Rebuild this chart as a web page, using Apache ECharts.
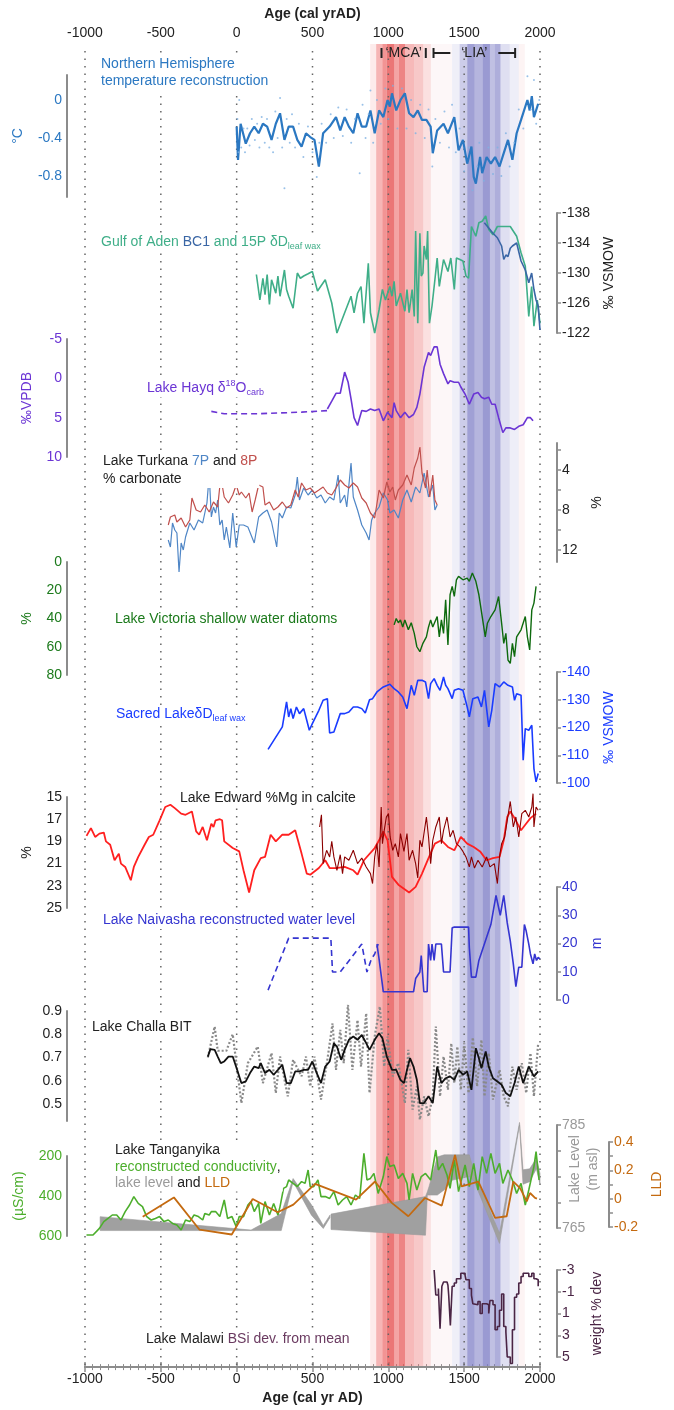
<!DOCTYPE html>
<html><head><meta charset="utf-8">
<script src="https://cdn.jsdelivr.net/npm/echarts@6/dist/echarts.min.js"></script>
<style>html,body{margin:0;padding:0;background:#fff}#c{width:674px;height:1410px}</style>
</head><body><div id="c"></div>
<script>
// ---------------- DATA ----------------
const xTicks = [-1000,-500,0,500,1000,1500,2000];
// climate periods shading: [startYear, endYear, colour]
const shadeBands = [
 [880,920,'rgba(240,120,120,0.15)'],[920,960,'rgba(235,90,90,0.45)'],[960,990,'rgba(235,90,90,0.65)'],
 [990,1040,'rgba(230,80,80,0.78)'],[1040,1070,'rgba(235,90,90,0.55)'],[1070,1110,'rgba(230,80,80,0.70)'],
 [1110,1170,'rgba(235,100,100,0.45)'],[1170,1230,'rgba(235,110,110,0.38)'],[1230,1280,'rgba(240,130,130,0.25)'],
 [1280,1420,'rgba(240,180,190,0.10)'],[1420,1470,'rgba(150,150,210,0.15)'],[1470,1520,'rgba(130,130,200,0.40)'],
 [1520,1570,'rgba(120,120,195,0.70)'],[1570,1620,'rgba(120,120,195,0.55)'],[1620,1670,'rgba(120,120,195,0.75)'],
 [1670,1700,'rgba(130,130,200,0.50)'],[1700,1740,'rgba(120,120,195,0.60)'],[1740,1800,'rgba(150,150,210,0.30)'],
 [1800,1860,'rgba(170,170,220,0.20)'],[1860,1900,'rgba(240,180,180,0.15)']
];
const periods = [[955,1247,'‘MCA’'],[1298,1836,'‘LIA’']];

const nhTemp = [[0,-0.28],[9,-0.63],[26,-0.25],[60,-0.46],[88,-0.35],[116,-0.28],[145,-0.35],[173,-0.25],[201,-0.28],[230,-0.42],[258,-0.25],[286,-0.14],[315,-0.42],[343,-0.28],[372,-0.28],[400,-0.42],[428,-0.49],[457,-0.35],[485,-0.39],[513,-0.42],[542,-0.70],[570,-0.35],[613,-0.28],[655,-0.18],[683,-0.32],[712,-0.18],[740,-0.28],[769,-0.35],[797,-0.14],[825,-0.28],[854,-0.28],[882,-0.11],[910,-0.35],[939,-0.11],[967,-0.18],[995,0.0],[1010,-0.07],[1024,0.07],[1052,-0.11],[1080,0.0],[1109,0.07],[1137,-0.14],[1166,-0.18],[1194,-0.11],[1222,-0.21],[1251,-0.21],[1279,-0.28],[1293,-0.56],[1322,-0.32],[1364,-0.25],[1393,-0.35],[1435,-0.18],[1449,-0.35],[1463,-0.53],[1492,-0.42],[1520,-0.67],[1548,-0.49],[1563,-0.81],[1577,-0.88],[1605,-0.60],[1619,-0.77],[1648,-0.60],[1676,-0.67],[1704,-0.60],[1733,-0.70],[1761,-0.56],[1789,-0.42],[1818,-0.63],[1846,-0.35],[1875,-0.21],[1917,0.0],[1932,-0.11],[1946,0.04],[1960,-0.18],[1988,-0.04]];
const nhAnnual = [[5,-0.2],[12,-0.55],[17,0.0],[30,-0.5],[45,-0.3],[55,-0.55],[70,-0.3],[85,-0.48],[100,-0.2],[120,-0.42],[135,-0.25],[150,-0.5],[165,-0.18],[185,-0.45],[200,-0.2],[215,-0.5],[240,-0.55],[255,-0.12],[270,-0.4],[286,0.02],[300,-0.5],[315,-0.93],[330,-0.2],[350,-0.45],[365,-0.15],[385,-0.5],[410,-0.25],[440,-0.6],[470,-0.28],[500,-0.55],[528,-0.81],[545,-0.45],[560,-0.25],[590,-0.45],[620,-0.15],[640,-0.4],[670,-0.08],[700,-0.38],[725,-0.1],[755,-0.45],[780,-0.2],[811,-0.77],[830,-0.05],[850,-0.4],[870,-0.15],[882,0.1],[900,-0.45],[925,0.0],[950,-0.25],[980,0.12],[1000,-0.2],[1030,0.15],[1060,-0.3],[1090,0.12],[1120,-0.3],[1150,0.0],[1180,-0.35],[1210,-0.05],[1240,-0.4],[1265,-0.1],[1290,-0.7],[1310,-0.2],[1340,-0.45],[1370,-0.12],[1400,-0.5],[1420,-0.05],[1445,-0.55],[1470,-0.3],[1500,-0.75],[1530,-0.5],[1555,-0.95],[1585,-0.7],[1600,-0.45],[1630,-0.85],[1660,-0.5],[1690,-0.78],[1720,-0.5],[1745,-0.8],[1775,-0.35],[1800,-0.7],[1830,-0.45],[1860,-0.1],[1890,-0.3],[1917,0.25],[1940,-0.1],[1960,0.21],[1975,-0.25],[1995,0.0]];

const aden15P = [[130,-129.8],[153,-126.4],[173,-129.3],[187,-127.1],[201,-129.8],[216,-125.8],[230,-129.1],[258,-127.3],[272,-129.6],[286,-126.9],[315,-130.4],[329,-127.8],[343,-126.9],[372,-125.3],[400,-130],[420,-129.3],[442,-129.6],[471,-129.9],[499,-130.2],[533,-127.6],[584,-129.1],[627,-126],[661,-122],[712,-124.7],[754,-126.9],[774,-124.7],[797,-127.3],[820,-128.2],[839,-123.3],[868,-131.3],[882,-124.7],[910,-122],[939,-125.1],[961,-127.8],[981,-126.4],[995,-127.3],[1010,-128.2],[1024,-126.9],[1038,-128.9],[1052,-125.6],[1080,-127.3],[1109,-124.9],[1123,-127.8],[1137,-124.7],[1157,-127.8],[1171,-124.2],[1180,-135.6],[1194,-123.3],[1208,-135.3],[1217,-129.6],[1228,-130],[1236,-133.6],[1251,-131.8],[1259,-135.6],[1271,-123.3],[1288,-125.6],[1307,-129.1],[1322,-132],[1336,-128.2],[1364,-131.8],[1393,-130.2],[1412,-132],[1435,-127.8],[1449,-132],[1472,-131.8],[1492,-131.6],[1512,-129.6],[1529,-129.3],[1548,-136.2],[1577,-134.9],[1597,-136.7],[1619,-136.9],[1642,-137.6],[1662,-135.8],[1690,-135.1],[1719,-136.2],[1747,-136.2],[1804,-136.2],[1846,-134.9],[1875,-132.7],[1903,-130.9],[1926,-124.2],[1945,-128.2],[1960,-122.9],[1982,-126.4],[2000,-123.3]];
const adenBC1 = [[1633,-136.7],[1662,-136.0],[1690,-135.3],[1719,-134.7],[1747,-133.6],[1761,-131.8],[1775,-132.4],[1789,-132.2],[1804,-133.3],[1818,-133.6],[1846,-134],[1875,-131.6],[1903,-130.4],[1926,-128.7],[1945,-130],[1960,-127.8],[1974,-126.4],[1988,-125.6],[2000,-122.4]];

const hayqDashed = [[-167,4.2],[-82,4.5],[145,4.5],[428,4.3],[598,4.1]];
const hayq = [[598,3.9],[627,2.9],[655,1.9],[683,1.9],[712,-0.8],[735,0.5],[754,2.6],[774,5.0],[797,6.0],[811,5.0],[825,4.1],[854,4.2],[882,3.9],[910,4.1],[939,3.9],[967,5.4],[995,4.3],[1024,5.0],[1038,3.1],[1052,4.1],[1080,5.0],[1109,4.3],[1137,5.0],[1166,4.6],[1188,3.7],[1208,2.0],[1236,-1.4],[1265,-3.3],[1279,-2.9],[1302,-4.0],[1322,-4.0],[1341,-1.8],[1364,-0.6],[1393,0.7],[1407,0.3],[1435,0.5],[1463,0.5],[1478,1.1],[1506,2.0],[1534,3.3],[1563,2.0],[1591,1.8],[1614,2.4],[1634,2.6],[1662,2.4],[1682,3.3],[1704,3.3],[1727,5.0],[1755,6.9],[1775,6.3],[1804,6.3],[1832,6.5],[1860,6.1],[1889,5.9],[1917,5.0],[1937,5.0],[1954,5.4]];

const turkana7P = [[-451,11.0],[-437,11.7],[-423,9.3],[-408,10.0],[-394,10.3],[-380,14.2],[-366,11.3],[-352,12.0],[-337,10.7],[-309,9.3],[-281,10.0],[-252,9.0],[-224,9.3],[-210,8.3],[-196,7.3],[-181,4.5],[-167,8.7],[-153,7.7],[-139,8.3],[-125,7.0],[-111,9.5],[-96,9.0],[-82,11.0],[-68,9.7],[-45,11.8],[-26,8.3],[-3,11.7],[17,9.5],[45,9.5],[74,9.7],[116,11.3],[145,8.7],[173,8.3],[201,8.0],[230,9.2],[264,11.7],[281,8.3],[301,8.8],[329,7.7],[357,7.8],[386,6.5],[400,4.7],[414,7.0],[442,5.8],[471,6.5],[499,6.0],[528,6.8],[556,6.5],[584,7.3],[613,6.7],[641,7.0],[669,4.5],[683,7.3],[712,6.5],[726,7.7],[754,3.3],[769,6.7],[797,8.0],[825,9.5],[854,10.3],[873,11.0],[890,9.0],[910,8.3],[939,7.7],[967,6.3],[995,7.0],[1010,8.3],[1038,8.0],[1066,8.8],[1095,7.0],[1123,6.0],[1151,7.2],[1180,5.7],[1208,6.3],[1236,4.3],[1265,6.7],[1293,5.5],[1307,8.0],[1322,7.5]];
const turkana8P = [[-451,9.5],[-437,8.7],[-408,8.5],[-394,9.2],[-366,8.8],[-337,9.7],[-309,9.0],[-295,6.8],[-267,8.0],[-238,8.2],[-210,7.5],[-181,8.2],[-153,7.2],[-125,7.7],[-105,4.7],[-82,6.7],[-54,7.3],[-26,6.5],[-3,5.5],[17,6.5],[31,6.2],[60,6.8],[82,6.3],[102,8.2],[122,7.0],[145,5.5],[173,5.7],[187,7.5],[216,7.2],[244,8.0],[272,7.7],[301,7.2],[329,7.8],[357,7.5],[386,6.0],[406,6.7],[428,5.3],[457,6.0],[485,5.8],[513,6.3],[542,6.0],[570,5.7],[598,6.3],[627,6.5],[655,5.8],[683,5.0],[712,5.5],[740,5.8],[769,5.3],[797,5.7],[825,6.8],[854,7.3],[882,8.3],[910,8.8],[939,6.0],[967,6.8],[990,5.2],[1010,6.2],[1029,5.7],[1046,7.0],[1066,6.0],[1095,5.5],[1123,4.5],[1151,5.5],[1171,3.8],[1194,2.8],[1208,1.7],[1222,4.3],[1245,5.8],[1256,4.0],[1273,6.7],[1293,4.5],[1307,7.0],[1322,7.5]];

const victoria = [[1038,44.5],[1052,40],[1066,43],[1080,41],[1095,46],[1109,41],[1132,48],[1151,43],[1171,50.5],[1188,60],[1208,63.5],[1228,57.6],[1251,53],[1265,46],[1279,41],[1293,46],[1322,38.6],[1336,53],[1350,41],[1364,50.5],[1378,26.8],[1393,58.8],[1407,23.2],[1421,17.3],[1435,24.4],[1449,12.6],[1463,10.2],[1492,12.6],[1520,11.4],[1534,13.7],[1554,7.8],[1577,13.7],[1597,23.2],[1619,38.6],[1639,53],[1653,43.4],[1676,38.6],[1704,33.9],[1727,24.4],[1747,43.4],[1761,57.6],[1775,50.5],[1789,69.4],[1804,71.8],[1818,57.6],[1832,67],[1846,53],[1875,48],[1903,38.6],[1917,53],[1932,62.3],[1946,33.9],[1960,29.1],[1974,17.3]];

const sacred = [[207,-112.1],[301,-120.2],[329,-129.2],[343,-123.8],[357,-126.8],[372,-123.2],[394,-127.4],[414,-125],[442,-126.8],[462,-122.6],[479,-119],[499,-121.4],[542,-126.2],[570,-129.8],[598,-130.4],[613,-118],[641,-118.4],[683,-125],[712,-125],[740,-125.6],[769,-127.4],[797,-127.4],[825,-126.8],[848,-125.2],[876,-130],[896,-130.4],[925,-132.8],[967,-134.6],[1010,-135.6],[1038,-134],[1066,-132.8],[1095,-131],[1123,-126.8],[1151,-135.2],[1171,-131.6],[1194,-137],[1222,-137],[1245,-136.4],[1265,-130.4],[1279,-135.8],[1302,-137.6],[1322,-135.2],[1341,-133.4],[1364,-138.2],[1378,-135.2],[1393,-134],[1421,-130.4],[1435,-133.4],[1463,-134],[1492,-133.4],[1520,-127.4],[1534,-123.8],[1557,-130.4],[1591,-131],[1614,-127.4],[1634,-133.4],[1662,-120.2],[1682,-126.2],[1704,-135.8],[1733,-134.6],[1761,-136.4],[1789,-135.2],[1818,-134.6],[1832,-129.8],[1846,-132.2],[1875,-131.6],[1889,-108.2],[1903,-119.6],[1926,-119],[1946,-120.8],[1960,-105.2],[1974,-100.4],[1988,-103.4]];

const edwardSmooth = [[-990,18.5],[-961,17.8],[-933,18.6],[-905,18.3],[-876,18.2],[-862,19.0],[-834,19.3],[-805,20.7],[-777,20.1],[-763,21.0],[-735,21.3],[-698,22.5],[-678,21.3],[-649,20.4],[-607,19.3],[-579,18.6],[-550,18.4],[-508,17.1],[-471,15.9],[-437,15.7],[-408,16.0],[-366,16.5],[-337,16.6],[-295,16.3],[-267,18.1],[-247,18.4],[-224,17.7],[-196,18.9],[-167,17.4],[-153,17.7],[-139,17.1],[-111,17.0],[-96,17.1],[-82,19.0],[-26,19.6],[17,19.9],[45,21.6],[82,23.6],[116,21.6],[159,20.5],[187,20.4],[224,18.4],[258,19.0],[301,18.4],[343,18.4],[386,18.0],[428,20.1],[462,21.9],[485,22.0],[542,21.4],[584,20.7],[613,21.4],[655,21.4],[712,21.3],[769,21.6],[797,22.0],[839,20.7],[910,19.6],[939,18.9],[967,18.1],[995,18.9],[1024,22.2],[1066,22.9],[1137,23.6],[1180,23.1],[1222,21.9],[1265,20.5],[1307,19.2],[1350,18.9],[1393,19.5],[1435,19.8],[1478,18.6],[1520,19.2],[1563,19.5],[1605,19.9],[1648,20.7],[1690,20.5],[1733,20.4],[1761,18.9],[1784,16.8],[1804,16.3],[1832,16.9],[1875,18.0],[1903,17.5],[1937,16.9],[1974,16.5]];
const edwardDetail = [[547,17.7],[559,16.6],[570,21.0],[593,19.8],[613,20.4],[627,19.0],[641,20.4],[661,21.6],[683,20.2],[698,21.9],[712,20.4],[740,20.7],[769,19.8],[783,20.4],[797,21.0],[825,20.5],[854,21.3],[882,21.9],[896,22.8],[910,20.4],[925,19.2],[939,21.3],[953,15.9],[961,19.2],[973,18.0],[987,16.8],[1001,16.5],[1012,18.6],[1029,19.8],[1046,19.2],[1066,20.4],[1080,18.3],[1103,19.9],[1123,18.3],[1137,20.7],[1160,19.8],[1180,21.0],[1194,22.3],[1208,18.9],[1222,19.5],[1251,16.8],[1265,18.6],[1279,21.0],[1293,18.9],[1313,17.7],[1336,16.8],[1350,19.2],[1364,18.0],[1387,16.8],[1407,18.6],[1427,18.0],[1449,19.2],[1472,19.5],[1492,19.9],[1512,20.4],[1534,21.3],[1548,20.4],[1568,21.4],[1591,20.7],[1619,21.3],[1648,20.4],[1670,21.3],[1699,21.0],[1719,22.8],[1733,20.4],[1747,19.2],[1767,18.6],[1784,17.1],[1804,15.4],[1824,17.7],[1841,16.8],[1860,18.6],[1880,16.5],[1903,16.2],[1926,16.8],[1946,15.9],[1954,14.7],[1960,17.7],[1974,15.9],[1988,16.2]];

const naivashaDashed = [[207,3.5],[343,21.9],[621,21.9],[632,9.9],[683,9.9],[825,19.8],[859,9.9],[888,14.5],[910,16.3],[933,19.8]];
const naivasha = [[925,19.8],[939,14.5],[967,2.9],[1166,2.9],[1180,7.6],[1208,9.9],[1217,15.7],[1228,15.7],[1234,2.9],[1256,2.9],[1265,19.8],[1279,14.0],[1288,19.8],[1302,14.0],[1313,19.8],[1350,19.8],[1364,9.9],[1407,9.9],[1421,25.6],[1435,25.8],[1529,25.8],[1534,18.6],[1548,8.1],[1577,8.1],[1597,14.0],[1676,26.7],[1710,37],[1738,30],[1761,37],[1784,27.3],[1804,20.9],[1824,12.8],[1841,4.7],[1860,11.6],[1880,11.6],[1897,26.7],[1909,24.4],[1926,19.8],[1937,16.3],[1954,12.8],[1965,16.3],[1977,14.0],[1988,15.1],[2000,14.5]];

const challa = [[-190,0.704],[-173,0.736],[-145,0.733],[-125,0.704],[-105,0.676],[-82,0.683],[-54,0.704],[-26,0.704],[3,0.647],[31,0.590],[60,0.597],[88,0.633],[116,0.661],[145,0.654],[159,0.676],[187,0.633],[216,0.647],[244,0.626],[272,0.647],[301,0.669],[329,0.590],[357,0.590],[386,0.640],[414,0.640],[442,0.647],[471,0.647],[499,0.683],[528,0.633],[556,0.590],[584,0.661],[613,0.683],[641,0.761],[661,0.747],[689,0.690],[712,0.733],[740,0.776],[769,0.790],[797,0.776],[825,0.797],[848,0.769],[876,0.733],[910,0.776],[939,0.804],[961,0.783],[990,0.704],[1024,0.647],[1052,0.647],[1080,0.604],[1103,0.590],[1123,0.647],[1143,0.697],[1166,0.661],[1188,0.604],[1208,0.504],[1236,0.504],[1265,0.533],[1293,0.504],[1322,0.661],[1350,0.590],[1378,0.611],[1407,0.619],[1435,0.604],[1463,0.647],[1492,0.626],[1520,0.640],[1548,0.561],[1577,0.740],[1597,0.697],[1614,0.654],[1642,0.726],[1662,0.661],[1690,0.611],[1719,0.597],[1747,0.583],[1775,0.547],[1804,0.533],[1832,0.590],[1860,0.661],[1889,0.590],[1926,0.661],[1960,0.619],[1988,0.640]];
const challaRaw = [[-190,0.70],[-145,0.833],[-125,0.729],[-68,0.729],[-26,0.80],[31,0.504],[74,0.676],[139,0.747],[173,0.590],[230,0.719],[258,0.547],[286,0.704],[337,0.533],[372,0.690],[428,0.619],[457,0.704],[485,0.576],[513,0.704],[556,0.519],[598,0.690],[632,0.847],[655,0.647],[683,0.819],[706,0.676],[734,0.926],[763,0.647],[797,0.861],[820,0.661],[854,0.890],[876,0.547],[910,0.790],[944,0.919],[973,0.661],[995,0.790],[1029,0.619],[1066,0.676],[1109,0.504],[1132,0.733],[1160,0.476],[1188,0.576],[1208,0.433],[1236,0.533],[1265,0.447],[1293,0.533],[1313,0.833],[1341,0.533],[1364,0.704],[1393,0.561],[1415,0.761],[1435,0.590],[1455,0.747],[1478,0.561],[1500,0.761],[1529,0.547],[1557,0.786],[1585,0.576],[1614,0.776],[1634,0.533],[1662,0.719],[1690,0.519],[1733,0.647],[1761,0.533],[1789,0.490],[1818,0.661],[1846,0.561],[1880,0.676],[1909,0.547],[1937,0.719],[1960,0.533],[1988,0.761]];

const tangCond = [[-990,595],[-947,595],[-905,562],[-876,528],[-848,512],[-820,495],[-791,495],[-763,520],[-735,478],[-706,445],[-678,403],[-649,437],[-621,453],[-593,503],[-564,520],[-536,512],[-508,503],[-479,528],[-451,520],[-423,537],[-394,545],[-366,570],[-337,520],[-309,528],[-281,495],[-252,503],[-224,520],[-210,487],[-181,495],[-167,478],[-139,478],[-111,503],[-82,420],[-60,512],[-31,503],[-3,553],[17,503],[45,503],[74,445],[94,428],[116,478],[145,437],[159,537],[187,428],[216,495],[244,437],[272,495],[286,453],[309,362],[329,353],[343,320],[372,337],[400,353],[428,328],[451,337],[471,270],[485,353],[508,353],[536,320],[556,403],[584,403],[613,412],[641,378],[669,445],[698,420],[726,403],[754,445],[783,395],[811,412],[839,187],[859,320],[882,312],[905,287],[933,387],[967,303],[990,203],[1010,253],[1038,245],[1066,312],[1095,287],[1123,337],[1137,420],[1160,287],[1188,370],[1217,303],[1245,287],[1279,320],[1313,170],[1330,270],[1358,237],[1387,295],[1407,362],[1435,220],[1463,378],[1506,245],[1534,353],[1563,237],[1591,370],[1619,203],[1648,287],[1676,187],[1704,287],[1733,237],[1755,337],[1789,270],[1818,320],[1846,387],[1875,337],[1903,445],[1926,370],[1960,253],[1974,178],[1994,320]];
const tangLLD = [[-617,-0.128],[-410,0.009],[-241,-0.218],[-26,-0.253],[113,-0.002],[279,-0.096],[383,-0.042],[527,0.105],[799,-0.007],[925,0.121],[1036,-0.030],[1146,-0.124],[1257,0.005],[1368,-0.049],[1456,0.309],[1500,0.086],[1611,0.121],[1722,-0.135],[1799,-0.124],[1843,0.121],[1888,0.075],[1932,-0.019],[1954,0.040],[1987,0.005],[2000,0.0]];
// lake level range band segments: [year, lower, upper] (m asl)
const tangLevelA = [[-900,764.5,767.2],[95,764.5,764.6],[294,764.5,767.8],[372,774.0,774.6],[493,767.5,769.5],[571,764.9,765.5],[615,767.0,767.5]];
const tangLevelB = [[622,764.7,767.7],[1245,763.6,771.1],[1257,771.4,772.0],[1268,771.4,773.0],[1323,771.4,778.8],[1368,772.4,779.2],[1423,774.3,779.2],[1534,775.0,779.2],[1567,774.0,775.6],[1733,762.0,764.0],[1865,785.0,785.5],[1888,773.5,776.3],[1932,774.0,776.5],[1976,776.5,778.5],[2000,773.5,775.6]];

const malawi = [[1302,-3],[1313,-0.7],[1330,-1.3],[1341,2.4],[1353,-1.5],[1364,-1.9],[1387,-1.9],[1393,-1.6],[1398,-0.7],[1409,2.1],[1421,-1.5],[1435,-1.8],[1449,-2.2],[1478,-2.7],[1506,-2.5],[1512,-2.1],[1534,-1.3],[1548,-0.7],[1557,0.1],[1568,0.2],[1591,-0.1],[1605,1.0],[1619,0.1],[1648,0.2],[1662,1.0],[1670,-0.2],[1690,0.2],[1704,2.5],[1719,2.2],[1733,0.7],[1747,-0.8],[1761,2.2],[1775,2.7],[1784,5.0],[1804,5.6],[1818,2.5],[1832,-0.5],[1846,-0.8],[1860,-1.8],[1875,-2.4],[1889,-2.7],[1909,-2.7],[1926,-2.4],[1946,-2.7],[1960,-2.2],[1974,-2.1],[1988,-1.5]];

// tick labels
const nhTicks=[0,-0.4,-0.8], adenTicks=[-138,-134,-130,-126,-122], hayqTicks=[-5,0,5,10],
 turkTicks=[4,8,12], vicTicks=[0,20,40,60,80], sacTicks=[-140,-130,-120,-110,-100],
 edwTicks=[15,17,19,21,23,25], naiTicks=[0,10,20,30,40], chaTicks=[0.5,0.6,0.7,0.8,0.9],
 condTicks=[200,400,600], levelLabels=[765,785], levelTicks=[765,770,775,780,785],
 lldLabels=[-0.2,0,0.2,0.4], lldTicks=[-0.2,-0.1,0,0.1,0.2,0.3,0.4], malTicks=[-3,-1,1,3,5];

// ---------------- CHART ----------------
const F = '"Liberation Sans", Arial, sans-serif';
const AX = '#8c8c8c';
const option = {animation:false, backgroundColor:'#fff', grid:[], xAxis:[], yAxis:[], series:[], graphic:[]};

// global frame grid
option.grid.push({left:85,right:134,top:43,bottom:40});
const xCommon = {gridIndex:0,type:'value',min:-1000,max:2000,interval:500,
  axisLine:{show:true,lineStyle:{color:AX,width:2}},
  axisTick:{show:true,inside:true,length:5,lineStyle:{color:AX,width:1.5}},
  minorTick:{show:true,splitNumber:10,length:3,lineStyle:{color:AX,width:1}},
  axisLabel:{color:'#222',fontSize:14,fontFamily:F,formatter:v=>String(v)},
  splitLine:{show:false}, nameLocation:'middle',
  nameTextStyle:{color:'#222',fontSize:14,fontWeight:'bold',fontFamily:F}};
option.xAxis.push(Object.assign({},xCommon,{position:'top',name:'Age (cal yrAD)',nameGap:18,
  axisLabel:Object.assign({},xCommon.axisLabel,{margin:3})}));
option.xAxis.push(Object.assign({},xCommon,{position:'bottom',name:'Age (cal yr AD)',nameGap:23,
  axisLabel:Object.assign({},xCommon.axisLabel,{margin:5})}));
option.yAxis.push({gridIndex:0,type:'value',min:0,max:1,show:false});

function addGrid(top,height){
  const gi=option.grid.length; option.grid.push({left:85,right:134,top,height});
  const xi=option.xAxis.length; option.xAxis.push({gridIndex:gi,type:'value',min:-1000,max:2000,show:false});
  return {gi,xi};
}
function addY(g,o){
  const yi=option.yAxis.length;
  option.yAxis.push({gridIndex:g.gi,type:'value',min:o.min,max:o.max,inverse:!!o.inverse,position:o.pos,offset:o.offset,
    axisLine:{show:true,onZero:false,lineStyle:{color:AX,width:2}},
    axisTick:{show:o.tickShow!==false,length:4,customValues:o.ticks||o.labels,lineStyle:{color:AX,width:1.5}},
    axisLabel:{customValues:o.labels,color:o.color,fontSize:14,fontFamily:F,margin:o.margin||5},
    splitLine:{show:false},
    name:o.name,nameLocation:'middle',nameRotate:90,nameGap:o.nameGap,
    nameTextStyle:{color:o.nameColor||o.color,fontSize:14,fontFamily:F,lineHeight:17}});
  return yi;
}
function line(g,yi,data,color,width,extra){
  option.series.push(Object.assign({type:'line',xAxisIndex:g.xi,yAxisIndex:yi,data,showSymbol:false,symbol:'none',
    clip:false,silent:true,z:3,lineStyle:{color,width}},extra||{}));
}

// background shading
option.series.push({type:'custom',xAxisIndex:1,yAxisIndex:0,z:1,silent:true,
  data:shadeBands.map(b=>[b[0],b[1]]),encode:{x:[0,1]},
  renderItem:(p,api)=>{const b=shadeBands[p.dataIndex];const a=api.coord([b[0],0]),c=api.coord([b[1],0]);const cs=p.coordSys;
    return {type:'rect',shape:{x:a[0],y:cs.y+1,width:c[0]-a[0],height:cs.height-2},style:{fill:b[2]}};}});
// dotted verticals
option.series.push({type:'custom',xAxisIndex:1,yAxisIndex:0,z:2,silent:true,
  data:xTicks.map(v=>[v]),encode:{x:0},
  renderItem:(p,api)=>{const a=api.coord([api.value(0),0]);const cs=p.coordSys;
    return {type:'line',shape:{x1:a[0],y1:cs.y+8,x2:a[0],y2:cs.y+cs.height-2},style:{stroke:'#666',lineWidth:1.5,lineDash:[1.5,6]}};}});
// period brackets
option.series.push({type:'custom',xAxisIndex:1,yAxisIndex:0,z:4,silent:true,
  data:periods.map(p=>[p[0],p[1]]),encode:{x:[0,1]},
  renderItem:(p,api)=>{const d=periods[p.dataIndex];const a=api.coord([d[0],0])[0],b=api.coord([d[1],0])[0];
    const y=p.coordSys.y+10;const m=(a+b)/2;const half=d[2].length*4.2+3;
    const st={stroke:'#222',lineWidth:2};
    return {type:'group',children:[
      {type:'line',shape:{x1:a,y1:y-5,x2:a,y2:y+5},style:st},
      {type:'line',shape:{x1:b,y1:y-5,x2:b,y2:y+5},style:st},
      {type:'line',shape:{x1:a,y1:y,x2:Math.max(a,m-half),y2:y},style:st},
      {type:'line',shape:{x1:Math.min(b,m+half),y1:y,x2:b,y2:y},style:st},
      {type:'text',style:{x:m,y:y,text:d[2],align:'center',verticalAlign:'middle',fill:'#222',fontSize:14,fontFamily:F}}]};}});

// 1 NH temperature
let g=addGrid(75,122); let y=addY(g,{pos:'left',offset:18,min:-1.021,max:0.263,labels:nhTicks,color:'#2b78c2',name:'°C',nameGap:28,tickShow:false});
option.series.push({type:'scatter',xAxisIndex:g.xi,yAxisIndex:y,data:nhAnnual,symbolSize:2,itemStyle:{color:'#7fb2e2'},silent:true,z:3});
line(g,y,nhTemp,'#2b78c2',2.2);
// 2 Gulf of Aden
g=addGrid(213,120); y=addY(g,{pos:'right',offset:17,min:-138,max:-122,inverse:true,labels:adenTicks,color:'#222',name:'‰ VSMOW',nameGap:42});
line(g,y,aden15P,'#3fae88',1.6); line(g,y,adenBC1,'#3a66a5',1.6);
// 3 Hayq
g=addGrid(339,118); y=addY(g,{pos:'left',offset:18,min:-5,max:10,inverse:true,labels:hayqTicks,color:'#6b35d4',name:'‰VPDB',nameGap:23,tickShow:false});
line(g,y,hayqDashed,'#6b35d4',1.6,{lineStyle:{color:'#6b35d4',width:1.6,type:[6,4]}}); line(g,y,hayq,'#6b35d4',1.6);
// 4 Turkana
g=addGrid(443,119); y=addY(g,{pos:'right',offset:17,min:1.3,max:13.2,inverse:true,labels:turkTicks,ticks:[2,4,6,8,10,12],color:'#222',name:'%',nameGap:29});
line(g,y,turkana7P,'#4f86c6',1.2); line(g,y,turkana8P,'#c0504d',1.2);
// 5 Victoria
g=addGrid(562,113); y=addY(g,{pos:'left',offset:18,min:0,max:80,inverse:true,labels:vicTicks,color:'#1c7a1c',name:'%',nameGap:24,tickShow:false});
line(g,y,victoria,'#0e6a0e',1.4);
// 6 Sacred Lake
g=addGrid(672,111); y=addY(g,{pos:'right',offset:17,min:-140,max:-100,inverse:true,labels:sacTicks,color:'#1a3cff',name:'‰ VSMOW',nameGap:44});
line(g,y,sacred,'#1a3cff',1.6);
// 7 Edward
g=addGrid(797,111); y=addY(g,{pos:'left',offset:18,min:15,max:25,inverse:true,labels:edwTicks,color:'#222',name:'%',nameGap:23,tickShow:false});
line(g,y,edwardSmooth,'#ff2020',1.8); line(g,y,edwardDetail,'#8b0000',1.1);
// 8 Naivasha
g=addGrid(887,113); y=addY(g,{pos:'right',offset:17,min:0,max:40,labels:naiTicks,color:'#3535d0',name:'m',nameGap:17});
line(g,y,naivashaDashed,'#3535d0',1.6,{lineStyle:{color:'#3535d0',width:1.6,type:[6,4]}}); line(g,y,naivasha,'#3535d0',1.6);
// 9 Challa
g=addGrid(1011,110); y=addY(g,{pos:'left',offset:18,min:0.427,max:0.9,labels:chaTicks,color:'#222',tickShow:false});
line(g,y,challaRaw,'#8a8a8a',2.2,{lineStyle:{color:'#8a8a8a',width:2.2,type:[2,2]}}); line(g,y,challa,'#111',1.8);
// 10 Tanganyika
let gL=addGrid(1125,103); let yL=addY(gL,{pos:'right',offset:17,min:765,max:785,labels:levelLabels,ticks:levelTicks,color:'#999'});
option.graphic.push({type:'text',x:584,y:1169,rotation:Math.PI/2,z:50,silent:true,
  style:{text:'Lake Level\n(m asl)',align:'center',verticalAlign:'middle',fill:'#999',fontSize:14,fontFamily:F,lineHeight:18}});
const bands=[tangLevelA,tangLevelB];
option.series.push({type:'custom',xAxisIndex:gL.xi,yAxisIndex:yL,z:2,silent:true,
  data:bands.map(s=>[s[0][0],s[s.length-1][0]]),encode:{x:[0,1]},
  renderItem:(p,api)=>{const s=bands[p.dataIndex];const pts=[];
    s.forEach(d=>pts.push(api.coord([d[0],d[2]])));
    for(let i=s.length-1;i>=0;i--)pts.push(api.coord([s[i][0],s[i][1]]));
    return {type:'polygon',shape:{points:pts},style:{fill:'#a0a0a0',stroke:'#9a9a9a',lineWidth:0.6}};}});
g=addGrid(1156,80); y=addY(g,{pos:'left',offset:18,min:200,max:600,inverse:true,labels:condTicks,color:'#4cae2c',name:'(µS/cm)',nameGap:38,tickShow:false});
line(g,y,tangCond,'#4cae2c',1.6);
g=addGrid(1142,85); y=addY(g,{pos:'right',offset:72,min:-0.2,max:0.4,labels:lldLabels,ticks:lldTicks,color:'#c46a10',name:'LLD',nameGap:31});
line(g,y,tangLLD,'#c46a10',1.8);
// 11 Malawi
g=addGrid(1270,87); y=addY(g,{pos:'right',offset:17,min:-3,max:5,inverse:true,labels:malTicks,color:'#4a2545',name:'weight % dev',nameGap:32});
line(g,y,malawi,'#4a2545',1.6,{step:'end'});

// titles
function title(x,yTop,text,rich,lh){
  option.graphic.push({type:'text',x,y:yTop,z:50,silent:true,style:{text,rich,fontSize:14,fontFamily:F,lineHeight:lh||18,backgroundColor:'#fff',padding:[0,2]}});
}
const tok=(c,s)=>({fill:c,fontSize:s||14,fontFamily:F,lineHeight:18});
const sub=(c)=>({fill:c,fontSize:9,fontFamily:F,lineHeight:9,verticalAlign:'bottom'});
const sup=(c)=>({fill:c,fontSize:9,fontFamily:F,lineHeight:9,verticalAlign:'top'});
option.graphic.push({type:'text',x:99,y:56,z:50,silent:true,style:{text:'Northern Hemisphere\ntemperature reconstruction',fill:'#2b78c2',fontSize:14,fontFamily:F,lineHeight:17,backgroundColor:'#fff',padding:[0,2]}});
title(99,233,'{g|Gulf of Aden }{b|BC1}{g| and 15P δD}{s|leaf wax}',{g:tok('#3fae88'),b:tok('#3a66a5'),s:sub('#3fae88')});
title(145,379,'{p|Lake Hayq δ}{u|18}{p|O}{s|carb}',{p:tok('#6b35d4'),u:sup('#6b35d4'),s:sub('#6b35d4')});
title(101,452,'{k|Lake Turkana }{b|7P}{k| and }{r|8P}\n{k|% carbonate}',{k:tok('#222'),b:tok('#4f86c6'),r:tok('#c0504d')});
title(113,610,'{v|Lake Victoria shallow water diatoms}',{v:tok('#1c7a1c')});
title(114,705,'{s|Sacred LakeδD}{w|leaf wax}',{s:tok('#1a3cff'),w:sub('#1a3cff')});
title(178,789,'{k|Lake Edward %Mg in calcite}',{k:tok('#222')});
title(101,911,'{n|Lake Naivasha reconstructed water level}',{n:tok('#3535d0')});
title(90,1018,'{k|Lake Challa BIT}',{k:tok('#222')});
option.graphic.push({type:'text',x:113,y:1142,z:50,silent:true,style:{
  text:'{k|Lake Tanganyika}\n{g|reconstructed conductivity}{k|,}\n{a|lake level}{k| and }{o|LLD}',
  rich:{k:{fill:'#222',fontSize:14,fontFamily:F,lineHeight:16.5},g:{fill:'#4cae2c',fontSize:14,fontFamily:F,lineHeight:16.5},
        a:{fill:'#9a9a9a',fontSize:14,fontFamily:F,lineHeight:16.5},o:{fill:'#c46a10',fontSize:14,fontFamily:F,lineHeight:16.5}},
  backgroundColor:'#fff',padding:[0,2]}});
title(144,1330,'{k|Lake Malawi }{m|BSi dev. from mean}',{k:tok('#222'),m:tok('#6a3a60')});

const chart = echarts.init(document.getElementById('c'),null,{renderer:'canvas'});
chart.setOption(option);
</script></body></html>
